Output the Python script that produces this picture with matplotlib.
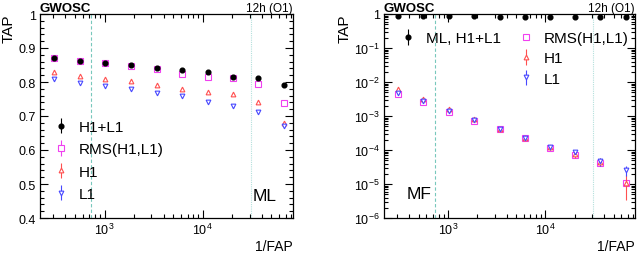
import math
import matplotlib
matplotlib.use('Agg')
import matplotlib.pyplot as plt
from matplotlib.ticker import FixedLocator, NullFormatter, MultipleLocator, LogLocator, FuncFormatter

plt.rcParams['font.family'] = ['Liberation Sans', 'DejaVu Sans']
plt.rcParams['mathtext.fontset'] = 'custom'
plt.rcParams['mathtext.rm'] = 'Liberation Sans'
plt.rcParams['mathtext.it'] = 'Liberation Sans:italic'

# 1/FAP thresholds
inv_fap = [309, 556, 1020, 1840, 3390, 6100, 11200, 20200, 36300, 67000]

# ML (left panel)
ml_h1l1 = [0.871, 0.862, 0.857, 0.849, 0.840, 0.835, 0.829, 0.816, 0.812, 0.791]
ml_rms = [0.871, 0.862, 0.857, 0.848, 0.839, 0.823, 0.815, 0.812, 0.794, 0.739]
ml_h1 = [0.828, 0.818, 0.810, 0.803, 0.792, 0.780, 0.770, 0.765, 0.741, 0.678]
ml_l1 = [0.808, 0.797, 0.788, 0.779, 0.768, 0.758, 0.742, 0.728, 0.711, 0.672]
ml_err = [0.002, 0.002, 0.002, 0.002, 0.002, 0.002, 0.003, 0.003, 0.003, 0.005]

# MF (right panel)
mf_rms = [4.4e-3, 2.5e-3, 1.3e-3, 7.2e-4, 4.1e-4, 2.2e-4, 1.15e-4, 7.2e-5, 4.2e-5, 1.1e-5]
mf_h1 = [6.2e-3, 3.2e-3, 1.6e-3, 8.2e-4, 4.2e-4, 2.3e-4, 1.2e-4, 7.5e-5, 4.5e-5, 1.1e-5]
mf_l1 = [4.7e-3, 2.7e-3, 1.4e-3, 7.5e-4, 4.2e-4, 2.3e-4, 1.2e-4, 8.5e-5, 4.6e-5, 2.5e-5]
mf_h1_err = [4e-4, 3e-4, 1.6e-4, 1.0e-4, 5e-5, 3e-5, 2e-5, 1.6e-5, 1.2e-5, 7.5e-6]
mf_l1_err = [4e-4, 3e-4, 1.6e-4, 1.0e-4, 5e-5, 3e-5, 2e-5, 1.6e-5, 1.2e-5, 8e-6]

vlines = [736, 31000]
xlim = (220, 83000)

c_rms = '#f040f0'
c_h1 = '#ff5050'
c_l1 = '#4848ff'
ms = 3.4

fig = plt.figure(figsize=(6.4, 2.55), dpi=100)
ax1 = fig.add_axes([40/640, 1-219/255, 253/640, 204/255])
ax2 = fig.add_axes([384/640, 1-219/255, 251/640, 204/255])


def pow_label(v, p):
    if abs(v - 1) < 1e-9:
        return '1'
    return r'$10^{%d}$' % round(math.log10(v))


def style(ax):
    ax.set_xscale('log')
    ax.set_xlim(*xlim)
    ax.tick_params(which='both', direction='in', top=True, right=True, labelsize=9, pad=3)
    ax.tick_params(which='major', length=6, width=0.8)
    ax.tick_params(which='minor', length=3, width=0.8)
    ax.xaxis.set_major_locator(FixedLocator([1e3, 1e4]))
    ax.xaxis.set_major_formatter(FuncFormatter(pow_label))
    ax.xaxis.set_minor_locator(LogLocator(base=10, subs=range(2, 10), numticks=20))
    ax.xaxis.set_minor_formatter(NullFormatter())
    for s in ax.spines.values():
        s.set_linewidth(0.9)
    ax.axvline(vlines[0], color='#78c8bc', lw=0.8, ls=(0, (3, 2)))
    ax.axvline(vlines[1], color='#b4e0dc', lw=0.8, ls=(0, (1, 1)))
    ax.set_ylabel('TAP', fontsize=11, loc='top', labelpad=2)
    ax.text(1.0, -0.137, '1/FAP', transform=ax.transAxes, fontsize=10, ha='right', va='center')
    ax.text(0.0, 1.016, 'GWOSC', transform=ax.transAxes, fontsize=9.5, fontweight='bold', ha='left', va='baseline')
    ax.text(1.0, 1.016, '12h (O1)', transform=ax.transAxes, fontsize=8.5, ha='right', va='baseline')


# left: ML linear
style(ax1)
ax1.set_ylim(0.4, 1.0)
ax1.yaxis.set_major_locator(MultipleLocator(0.1))
ax1.yaxis.set_minor_locator(MultipleLocator(0.02))
ax1.yaxis.set_major_formatter(FuncFormatter(lambda v, p: '1' if abs(v - 1) < 1e-6 else '%.1f' % v))
e = dict(elinewidth=0.8, capsize=0, ls='none')
ax1.errorbar(inv_fap, ml_h1l1, yerr=ml_err, fmt='o', color='black', mfc='black', ms=ms, label='H1+L1', zorder=5, **e)
ax1.errorbar(inv_fap, ml_rms, yerr=ml_err, fmt='s', color=c_rms, mfc='white', mew=0.8, ms=4.3, label='RMS(H1,L1)', zorder=4, **e)
ax1.errorbar(inv_fap, ml_h1, yerr=ml_err, fmt='^', color=c_h1, mfc='white', mew=0.8, ms=ms, label='H1', zorder=3, **e)
ax1.errorbar(inv_fap, ml_l1, yerr=ml_err, fmt='v', color=c_l1, mfc='white', mew=0.8, ms=ms, label='L1', zorder=3, **e)
ax1.legend(loc='lower left', bbox_to_anchor=(0.0, 0.03), frameon=False, fontsize=11,
           handlelength=1.3, handletextpad=0.55, labelspacing=0.55, borderaxespad=0.3)
ax1.text(0.935, 0.11, 'ML', transform=ax1.transAxes, fontsize=12.5, ha='right', va='center')

# right: MF log
style(ax2)
ax2.set_yscale('log')
ax2.set_ylim(1e-6, 1.0)
ax2.yaxis.set_major_locator(LogLocator(base=10, numticks=10))
ax2.yaxis.set_minor_locator(LogLocator(base=10, subs=range(2, 10), numticks=20))
ax2.yaxis.set_minor_formatter(NullFormatter())
ax2.yaxis.set_major_formatter(FuncFormatter(pow_label))
h0 = ax2.errorbar(inv_fap, ml_h1l1, yerr=ml_err, fmt='o', color='black', mfc='black', ms=ms, label='ML, H1+L1', zorder=5, **e)
h1 = ax2.errorbar(inv_fap, mf_rms, fmt='s', color=c_rms, mfc='white', mew=0.8, ms=4.0, label='RMS(H1,L1)', zorder=3, **e)
h2 = ax2.errorbar(inv_fap, mf_h1, yerr=mf_h1_err, fmt='^', color=c_h1, mfc='white', mew=0.8, ms=ms, label='H1', zorder=4, **e)
h3 = ax2.errorbar(inv_fap, mf_l1, yerr=mf_l1_err, fmt='v', color=c_l1, mfc='white', mew=0.8, ms=ms, label='L1', zorder=4, **e)
leg1 = ax2.legend(handles=[h0], loc='upper left', bbox_to_anchor=(0.03, 0.945), frameon=False, fontsize=11,
                  handlelength=1.3, handletextpad=0.55, borderaxespad=0.0)
ax2.add_artist(leg1)
ax2.legend(handles=[h1, h2, h3], loc='upper left', bbox_to_anchor=(0.5, 0.945), frameon=False, fontsize=11,
           handlelength=1.3, handletextpad=0.55, labelspacing=0.4, borderaxespad=0.0)
ax2.text(0.09, 0.12, 'MF', transform=ax2.transAxes, fontsize=12.5, ha='left', va='center')

fig.savefig('out.png', dpi=100)
